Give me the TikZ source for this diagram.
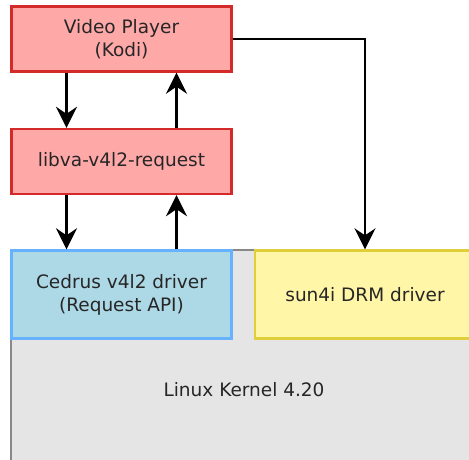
\documentclass[tikz,border=0pt]{standalone}
\usepackage{fontspec}
\setmainfont{DejaVu Sans}
\usetikzlibrary{arrows.meta}
\definecolor{appfill}{HTML}{FFA8A8}
\definecolor{appline}{HTML}{D42A2A}
\definecolor{drvfill}{HTML}{ADD8E6}
\definecolor{drvline}{HTML}{66B2FF}
\definecolor{drmfill}{HTML}{FFF6A8}
\definecolor{drmline}{HTML}{E0CF3A}
\definecolor{kernfill}{HTML}{E5E5E5}
\definecolor{kernline}{HTML}{888888}
\begin{document}
\begin{tikzpicture}[x=1pt, y=-1pt,
  box/.style={draw, line width=2.4pt, inner sep=0pt, align=center, text=black!85,
    minimum width=220pt, font=\fontsize{18.5}{23}\selectfont},
  appbox/.style={box, fill=appfill, draw=appline, minimum height=65pt},
  drvbox/.style={box, fill=drvfill, draw=drvline, minimum height=88pt},
  drmbox/.style={box, fill=drmfill, draw=drmline, minimum height=88pt},
  arr/.style={line width=2.6pt, -{Stealth[length=21pt, width=21pt, inset=7pt]}}]
\useasboundingbox (0, 0) rectangle (469, 459);
\clip (0, 0) rectangle (469, 459);
% Kernel
\node[box, fill=kernfill, draw=kernline, minimum width=466pt, minimum height=280pt] (kern) at (244, 390) {Linux Kernel 4.20};
% Treiber
\node[drvbox] (cedrus) at (121.5, 294.5) {Cedrus v4l2 driver\\(Request API)};
\node[drmbox] (drm) at (365, 294.5) {sun4i DRM driver};
% Userspace
\node[appbox] (kodi) at (121.5, 39) {Video Player\\(Kodi)};
\node[appbox] (libva) at (121.5, 161.5) {libva-v4l2-request};
%Pfeile
\draw[arr] ([xshift=-55pt]kodi.south) -- ([xshift=-55pt]libva.north);
\draw[arr] ([xshift=55pt]libva.north) -- ([xshift=55pt]kodi.south);
\draw[arr] ([xshift=-55pt]libva.south) -- ([xshift=-55pt]cedrus.north);
\draw[arr] ([xshift=55pt]cedrus.north) -- ([xshift=55pt]libva.south);
\draw[arr, line width=2.2pt] (kodi.east) -| (drm.north);
\end{tikzpicture}
\end{document}
